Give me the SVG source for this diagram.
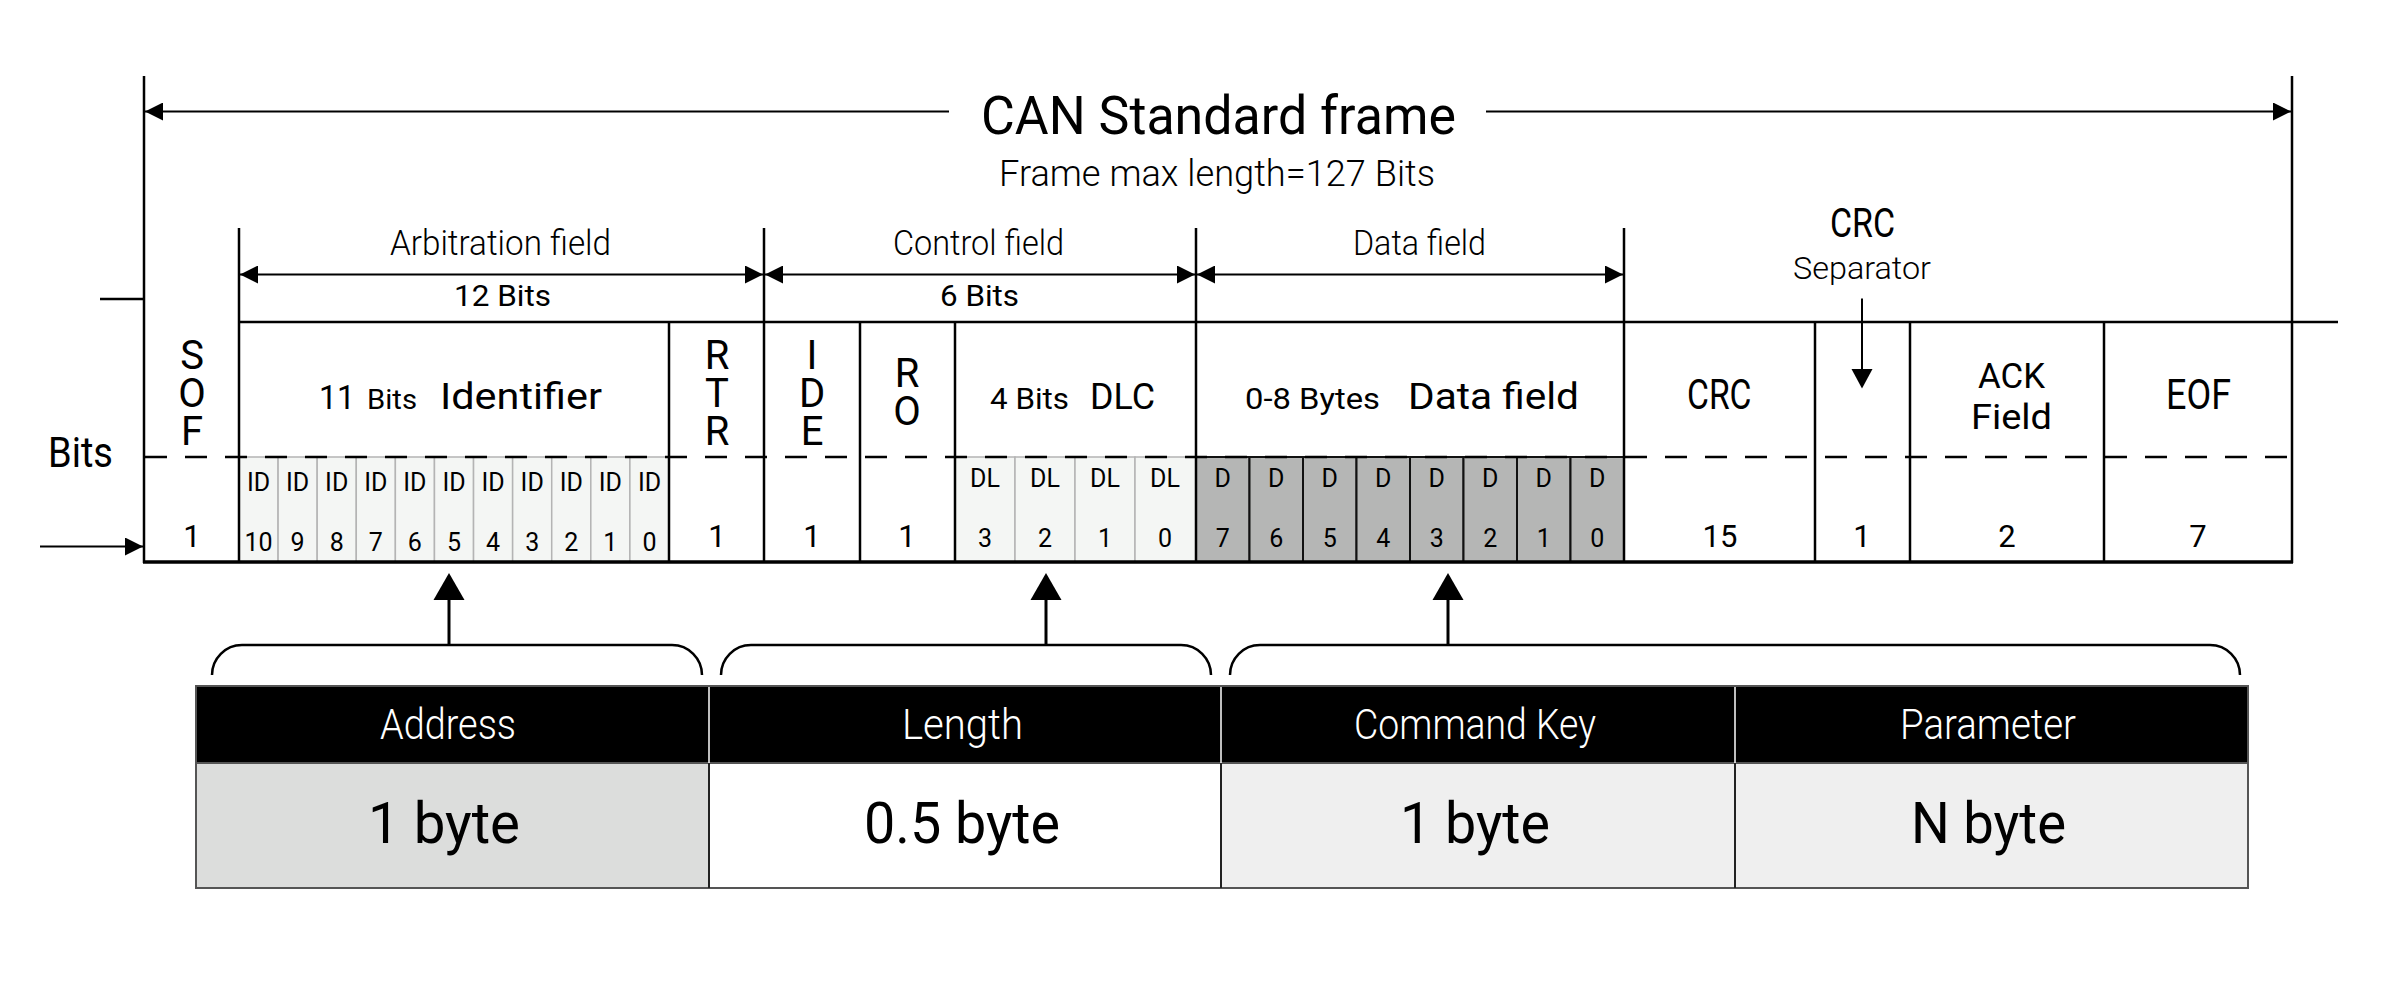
<svg xmlns="http://www.w3.org/2000/svg" width="2392" height="995" viewBox="0 0 2392 995">
<defs>
<style>
text{font-family:Roboto,"Liberation Sans",sans-serif;fill:#000}
.lt{font-weight:300}
.ln{stroke:#000;stroke-width:2.5;fill:none}
.ar{stroke:#000;stroke-width:2;fill:none;marker-end:url(#ah)}
.br{stroke:#000;stroke-width:2.5;fill:none}
.idc{fill:#f4f6f4;stroke:#b4b4b4;stroke-width:1.5}
.dlc{fill:#f4f6f4;stroke:#b4b4b4;stroke-width:1.5}
.dc{fill:#b5b6b5;stroke:#111;stroke-width:2}
.sm{font-size:25px;text-anchor:middle}
.num{font-size:31px;text-anchor:middle}
.vt{font-size:40px;writing-mode:vertical-rl;text-orientation:upright;letter-spacing:-8.8px}
.hd{font-size:43px;fill:#fff;font-weight:300}
.bd{font-size:57px}
</style>
<marker id="ah" markerUnits="userSpaceOnUse" markerWidth="18" markerHeight="18" refX="18" refY="9" orient="auto">
<path d="M0,0 L18,9 L0,18 z" fill="#000"/>
</marker>
</defs>

<g id="title">
<text x="981" y="134" font-size="54" textLength="475" lengthAdjust="spacingAndGlyphs">CAN Standard frame</text>
<text x="999" y="185.5" font-size="36" class="lt" textLength="436" lengthAdjust="spacingAndGlyphs">Frame max length=127 Bits</text>
</g>

<g id="cells-bg">
<rect class="idc" x="239" y="457" width="39.09" height="105"/>
<rect class="idc" x="278.09" y="457" width="39.09" height="105"/>
<rect class="idc" x="317.18" y="457" width="39.09" height="105"/>
<rect class="idc" x="356.27" y="457" width="39.09" height="105"/>
<rect class="idc" x="395.36" y="457" width="39.09" height="105"/>
<rect class="idc" x="434.45" y="457" width="39.09" height="105"/>
<rect class="idc" x="473.54" y="457" width="39.09" height="105"/>
<rect class="idc" x="512.63" y="457" width="39.09" height="105"/>
<rect class="idc" x="551.72" y="457" width="39.09" height="105"/>
<rect class="idc" x="590.81" y="457" width="39.09" height="105"/>
<rect class="idc" x="629.9" y="457" width="39.1" height="105"/>
<rect class="dlc" x="955" y="457" width="60" height="105"/>
<rect class="dlc" x="1015" y="457" width="60" height="105"/>
<rect class="dlc" x="1075" y="457" width="60" height="105"/>
<rect class="dlc" x="1135" y="457" width="61" height="105"/>
<rect class="dc" x="1196" y="457" width="53.5" height="105"/>
<rect class="dc" x="1249.5" y="457" width="53.5" height="105"/>
<rect class="dc" x="1303" y="457" width="53.5" height="105"/>
<rect class="dc" x="1356.5" y="457" width="53.5" height="105"/>
<rect class="dc" x="1410" y="457" width="53.5" height="105"/>
<rect class="dc" x="1463.5" y="457" width="53.5" height="105"/>
<rect class="dc" x="1517" y="457" width="53.5" height="105"/>
<rect class="dc" x="1570.5" y="457" width="53.5" height="105"/>
</g>

<g id="connectors">
<line class="ln" x1="144" y1="76" x2="144" y2="563"/>
<line class="ln" x1="2292" y1="76" x2="2292" y2="563"/>
<line x1="143" y1="562" x2="2293" y2="562" stroke="#000" stroke-width="3.5"/>
<line class="ln" x1="239" y1="322" x2="2338" y2="322"/>
<line class="ln" x1="100" y1="299" x2="144" y2="299"/>
<line class="ln" x1="239" y1="228" x2="239" y2="562"/>
<line class="ln" x1="669" y1="322" x2="669" y2="562"/>
<line class="ln" x1="764" y1="228" x2="764" y2="562"/>
<line class="ln" x1="860" y1="322" x2="860" y2="562"/>
<line class="ln" x1="955" y1="322" x2="955" y2="562"/>
<line class="ln" x1="1196" y1="228" x2="1196" y2="562"/>
<line class="ln" x1="1624" y1="228" x2="1624" y2="562"/>
<line class="ln" x1="1815" y1="322" x2="1815" y2="562"/>
<line class="ln" x1="1910" y1="322" x2="1910" y2="562"/>
<line class="ln" x1="2104" y1="322" x2="2104" y2="562"/>
<line x1="145" y1="457" x2="2291" y2="457" stroke="#000" stroke-width="2.5" stroke-dasharray="22 18"/>
<line class="ar" x1="949" y1="111.5" x2="145" y2="111.5"/>
<line class="ar" x1="1486" y1="111.5" x2="2291" y2="111.5"/>
<line class="ar" x1="500" y1="274.5" x2="240" y2="274.5"/>
<line class="ar" x1="500" y1="274.5" x2="763" y2="274.5"/>
<line class="ar" x1="980" y1="274.5" x2="765" y2="274.5"/>
<line class="ar" x1="980" y1="274.5" x2="1195" y2="274.5"/>
<line class="ar" x1="1410" y1="274.5" x2="1197" y2="274.5"/>
<line class="ar" x1="1410" y1="274.5" x2="1623" y2="274.5"/>
<line class="ar" x1="40" y1="546.5" x2="143" y2="546.5"/>
<line x1="1862" y1="298.5" x2="1862" y2="372" stroke="#000" stroke-width="2"/>
<path d="M1851.5,369 L1872.5,369 L1862,388.5 z" fill="#000"/>
<path class="br" d="M212,675 A30,30 0 0 1 242,645 H672 A30,30 0 0 1 702,675"/>
<path class="br" d="M721,675 A30,30 0 0 1 751,645 H1181 A30,30 0 0 1 1211,675"/>
<path class="br" d="M1230,675 A30,30 0 0 1 1260,645 H2210 A30,30 0 0 1 2240,675"/>
<line x1="449" y1="645" x2="449" y2="596" stroke="#000" stroke-width="3"/>
<path d="M433.5,600 L464.5,600 L449,573 z" fill="#000"/>
<line x1="1046" y1="645" x2="1046" y2="596" stroke="#000" stroke-width="3"/>
<path d="M1030.5,600 L1061.5,600 L1046,573 z" fill="#000"/>
<line x1="1448" y1="645" x2="1448" y2="596" stroke="#000" stroke-width="3"/>
<path d="M1432.5,600 L1463.5,600 L1448,573 z" fill="#000"/>
</g>

<g id="field-labels">
<text x="390" y="254.5" font-size="35" class="lt" fill="#222" textLength="221" lengthAdjust="spacingAndGlyphs">Arbitration field</text>
<text x="454" y="306" font-size="30" textLength="97" lengthAdjust="spacingAndGlyphs">12 Bits</text>
<text x="893" y="254.5" font-size="35" class="lt" textLength="171" lengthAdjust="spacingAndGlyphs">Control field</text>
<text x="940" y="306" font-size="30" textLength="79" lengthAdjust="spacingAndGlyphs">6 Bits</text>
<text x="1353" y="254.5" font-size="35" class="lt" textLength="133" lengthAdjust="spacingAndGlyphs">Data field</text>
<text x="1830" y="237" font-size="40" textLength="65" lengthAdjust="spacingAndGlyphs">CRC</text>
<text x="1793" y="279" font-size="32" class="lt" textLength="138" lengthAdjust="spacingAndGlyphs">Separator</text>
<text x="48" y="467" font-size="43" textLength="65" lengthAdjust="spacingAndGlyphs">Bits</text>
</g>

<g id="sof">
<text class="vt" x="192" y="332">SOF</text>
<text class="num" x="192" y="546.5">1</text>
</g>

<g id="identifier">
<text x="319" y="409" font-size="34" textLength="36" lengthAdjust="spacingAndGlyphs">11</text>
<text x="367" y="409" font-size="28" textLength="50" lengthAdjust="spacingAndGlyphs">Bits</text>
<text x="440" y="409" font-size="37" textLength="162" lengthAdjust="spacingAndGlyphs">Identifier</text>
<text class="sm" x="258.5" y="491">ID</text><text class="sm" x="258.5" y="551">10</text>
<text class="sm" x="297.6" y="491">ID</text><text class="sm" x="297.6" y="551">9</text>
<text class="sm" x="336.7" y="491">ID</text><text class="sm" x="336.7" y="551">8</text>
<text class="sm" x="375.8" y="491">ID</text><text class="sm" x="375.8" y="551">7</text>
<text class="sm" x="414.9" y="491">ID</text><text class="sm" x="414.9" y="551">6</text>
<text class="sm" x="454" y="491">ID</text><text class="sm" x="454" y="551">5</text>
<text class="sm" x="493.1" y="491">ID</text><text class="sm" x="493.1" y="551">4</text>
<text class="sm" x="532.2" y="491">ID</text><text class="sm" x="532.2" y="551">3</text>
<text class="sm" x="571.3" y="491">ID</text><text class="sm" x="571.3" y="551">2</text>
<text class="sm" x="610.4" y="491">ID</text><text class="sm" x="610.4" y="551">1</text>
<text class="sm" x="649.5" y="491">ID</text><text class="sm" x="649.5" y="551">0</text>
</g>

<g id="rtr">
<text class="vt" x="717" y="332">RTR</text>
<text class="num" x="717" y="546.5">1</text>
</g>

<g id="ide">
<text class="vt" x="812" y="332">IDE</text>
<text class="num" x="812" y="546.5">1</text>
</g>

<g id="ro">
<text class="vt" x="907" y="349.5">RO</text>
<text class="num" x="907" y="546.5">1</text>
</g>

<g id="dlc">
<text x="990" y="409" font-size="29" textLength="79" lengthAdjust="spacingAndGlyphs">4 Bits</text>
<text x="1090" y="409" font-size="37" textLength="65" lengthAdjust="spacingAndGlyphs">DLC</text>
<text class="sm" x="985" y="487">DL</text><text class="sm" x="985" y="546.5">3</text>
<text class="sm" x="1045" y="487">DL</text><text class="sm" x="1045" y="546.5">2</text>
<text class="sm" x="1105" y="487">DL</text><text class="sm" x="1105" y="546.5">1</text>
<text class="sm" x="1165" y="487">DL</text><text class="sm" x="1165" y="546.5">0</text>
</g>

<g id="data">
<text x="1245" y="409" font-size="29" textLength="135" lengthAdjust="spacingAndGlyphs">0-8 Bytes</text>
<text x="1408" y="409" font-size="37" textLength="171" lengthAdjust="spacingAndGlyphs">Data field</text>
<text class="sm" x="1222.75" y="487">D</text><text class="sm" x="1222.75" y="546.5">7</text>
<text class="sm" x="1276.25" y="487">D</text><text class="sm" x="1276.25" y="546.5">6</text>
<text class="sm" x="1329.75" y="487">D</text><text class="sm" x="1329.75" y="546.5">5</text>
<text class="sm" x="1383.25" y="487">D</text><text class="sm" x="1383.25" y="546.5">4</text>
<text class="sm" x="1436.75" y="487">D</text><text class="sm" x="1436.75" y="546.5">3</text>
<text class="sm" x="1490.25" y="487">D</text><text class="sm" x="1490.25" y="546.5">2</text>
<text class="sm" x="1543.75" y="487">D</text><text class="sm" x="1543.75" y="546.5">1</text>
<text class="sm" x="1597.25" y="487">D</text><text class="sm" x="1597.25" y="546.5">0</text>
</g>

<g id="crc">
<text x="1687" y="409" font-size="42" textLength="64.5" lengthAdjust="spacingAndGlyphs">CRC</text>
<text class="num" x="1720" y="546.5">15</text>
</g>

<g id="crc-separator">
<text class="num" x="1862" y="546.5">1</text>
</g>

<g id="ack">
<text x="1978" y="387.5" font-size="34.5" textLength="67" lengthAdjust="spacingAndGlyphs">ACK</text>
<text x="1971" y="428.5" font-size="34.5" textLength="81" lengthAdjust="spacingAndGlyphs">Field</text>
<text class="num" x="2007" y="546.5">2</text>
</g>

<g id="eof">
<text x="2166" y="409" font-size="42" textLength="65" lengthAdjust="spacingAndGlyphs">EOF</text>
<text class="num" x="2198" y="546.5">7</text>
</g>

<g id="table">
<rect x="196" y="686" width="2052" height="77" fill="#000"/>
<rect x="196" y="763" width="513" height="125" fill="#dcdddc"/>
<rect x="709" y="763" width="512" height="125" fill="#fff"/>
<rect x="1221" y="763" width="514" height="125" fill="#efefef"/>
<rect x="1735" y="763" width="513" height="125" fill="#efefef"/>
<rect x="196" y="686" width="2052" height="202" fill="none" stroke="#555" stroke-width="2"/>
<line x1="196" y1="763" x2="2248" y2="763" stroke="#555" stroke-width="2"/>
<line x1="709" y1="687" x2="709" y2="763" stroke="#fff" stroke-width="1.5"/>
<line x1="1221" y1="687" x2="1221" y2="763" stroke="#fff" stroke-width="1.5"/>
<line x1="1735" y1="687" x2="1735" y2="763" stroke="#fff" stroke-width="1.5"/>
<line x1="709" y1="763" x2="709" y2="888" stroke="#222" stroke-width="2"/>
<line x1="1221" y1="763" x2="1221" y2="888" stroke="#222" stroke-width="2"/>
<line x1="1735" y1="763" x2="1735" y2="888" stroke="#222" stroke-width="2"/>
</g>

<g id="address">
<text class="hd" x="380" y="739" textLength="136" lengthAdjust="spacingAndGlyphs">Address</text>
<text class="bd" x="368" y="843" textLength="152" lengthAdjust="spacingAndGlyphs">1 byte</text>
</g>
<g id="length">
<text class="hd" x="902" y="739" textLength="121" lengthAdjust="spacingAndGlyphs">Length</text>
<text class="bd" x="864" y="843" textLength="196" lengthAdjust="spacingAndGlyphs">0.5 byte</text>
</g>
<g id="command-key">
<text class="hd" x="1354" y="739" textLength="242" lengthAdjust="spacingAndGlyphs">Command Key</text>
<text class="bd" x="1400" y="843" textLength="150" lengthAdjust="spacingAndGlyphs">1 byte</text>
</g>
<g id="parameter">
<text class="hd" x="1900" y="739" textLength="176" lengthAdjust="spacingAndGlyphs">Parameter</text>
<text class="bd" x="1911" y="843" textLength="155" lengthAdjust="spacingAndGlyphs">N byte</text>
</g>
</svg>
